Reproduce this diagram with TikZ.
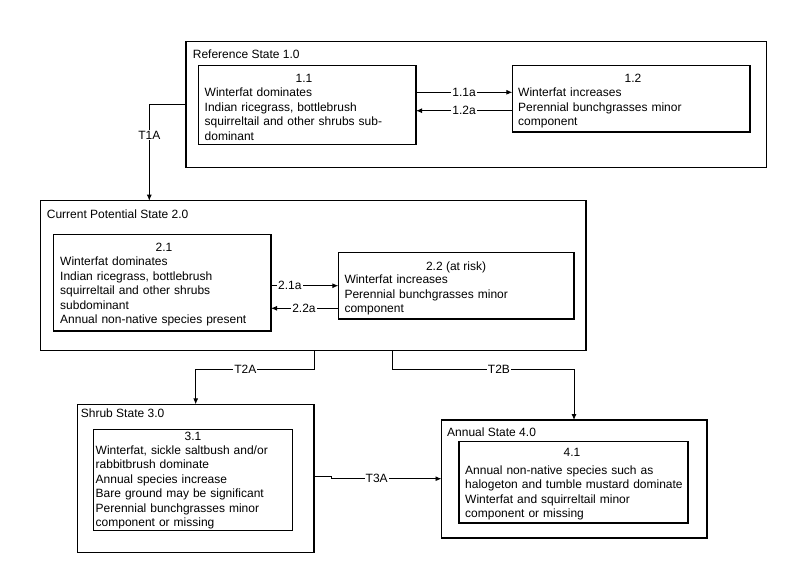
\documentclass[tikz,border=0pt]{standalone}
\usepackage{fontspec}
\setmainfont{Liberation Sans}
\usetikzlibrary{arrows.meta}
\begin{document}
\begin{tikzpicture}[x=1pt,y=-1pt,
  txt/.style={font=\fontsize{12}{14.5}\selectfont},
  boxstyle/.style={draw, line width=1.1pt, anchor=north west, inner sep=0pt, outer sep=0pt},
  titletext/.style={txt, anchor=base west, inner sep=0pt},
  numtext/.style={txt, anchor=base, inner sep=0pt},
  bodytext/.style={txt, anchor=base west, inner sep=0pt, text width=260pt, align=left},
  arr/.style={draw, line width=0.9pt, -{Latex[length=6pt,width=5pt]}},
  plain/.style={draw, line width=0.9pt},
  lab/.style={txt, fill=white, inner sep=1pt}]
\path[fill=white, use as bounding box] (0,0) rectangle (800,581);

% outer state boxes
\node[boxstyle, minimum width=580.7pt, minimum height=126pt] (s1) at (186,41.7) {};
\node[boxstyle, minimum width=545.3pt, minimum height=150pt] (s2) at (40.7,200.7) {};
\node[boxstyle, minimum width=236.3pt, minimum height=148pt] (s3) at (77.7,404.3) {};
\node[boxstyle, minimum width=265.5pt, minimum height=118pt] (s4) at (441.5,420) {};

% inner community boxes
\node[boxstyle, minimum width=217.7pt, minimum height=78.6pt] (b11) at (198.3,65.7) {};
\node[boxstyle, minimum width=237.7pt, minimum height=66.3pt] (b12) at (512.3,65.7) {};
\node[boxstyle, minimum width=217.7pt, minimum height=96.7pt] (b21) at (53.3,234.3) {};
\node[boxstyle, minimum width=235.7pt, minimum height=66.7pt] (b22) at (338.3,252.3) {};
\node[boxstyle, minimum width=199.4pt, minimum height=101.4pt] (b31) at (93.3,429.3) {};
\node[boxstyle, minimum width=229pt, minimum height=81.3pt] (b41) at (459,441.7) {};

% state titles
\node[titletext] (t1) at (192.7,58.3) {Reference State 1.0};
\node[titletext] (t2) at (46.7,218.5) {Current Potential State 2.0};
\node[titletext] (t3) at (80.7,417.6) {Shrub State 3.0};
\node[titletext] (t4) at (447,436.3) {Annual State 4.0};

% community numbers
\node[numtext] (n11) at (304,82) {1.1};
\node[numtext] (n12) at (633,82) {1.2};
\node[numtext] (n21) at (164,251.6) {2.1};
\node[numtext] (n22) at (456,270) {2.2 (at risk)};
\node[numtext] (n31) at (193,440.3) {3.1};
\node[numtext] (n41) at (572,456.5) {4.1};

% community texts
\node[bodytext] (x11) at (204.5,96.5) {Winterfat dominates\\Indian ricegrass, bottlebrush\\squirreltail and other shrubs sub-\\dominant};
\node[bodytext] (x12) at (518,96.5) {Winterfat increases\\Perennial bunchgrasses minor\\component};
\node[bodytext] (x21) at (60,265.5) {Winterfat dominates\\Indian ricegrass, bottlebrush\\squirreltail and other shrubs\\subdominant\\Annual non-native species present};
\node[bodytext] (x22) at (344.3,283.5) {Winterfat increases\\Perennial bunchgrasses minor\\component};
\node[bodytext] (x31) at (95.5,454.3) {Winterfat, sickle saltbush and/or\\rabbitbrush dominate\\Annual species increase\\Bare ground may be significant\\Perennial bunchgrasses minor\\component or missing};
\node[bodytext] (x41) at (465,474) {Annual non-native species such as\\halogeton and tumble mustard dominate\\Winterfat and squirreltail minor\\component or missing};

% pathways within states
\draw[arr] (b11.east |- 0,92.3) -- node[lab]{1.1a} (b12.west |- 0,92.3);
\draw[arr] (b12.west |- 0,110.7) -- node[lab]{1.2a} (b11.east |- 0,110.7);
\draw[arr] (b21.east |- 0,285.7) -- node[lab, pos=0.28]{2.1a} (b22.west |- 0,285.7);
\draw[arr] (b22.west |- 0,308.3) -- node[lab, pos=0.51]{2.2a} (b21.east |- 0,308.3);

% transitions
\draw[arr] (s1.west |- 0,104) -| node[lab, pos=0.66]{T1A} (s2.north -| 149.3,0);
\draw[arr] (s2.south -| 314,0) -- (314,369.3) -- node[lab, pos=0.58]{T2A} (195.7,369.3) -- (s3.north -| 195.7,0);
\draw[arr] (s2.south -| 392.3,0) -- (392.3,369.3) -- node[lab, pos=0.587]{T2B} (574,369.3) -- (s4.north -| 574,0);
\draw[arr] (s3.east |- 0,476.7) -- (331.7,476.7) -- (331.7,478.7) -- node[lab, pos=0.41]{T3A} (s4.west |- 0,478.7);
\end{tikzpicture}
\end{document}
